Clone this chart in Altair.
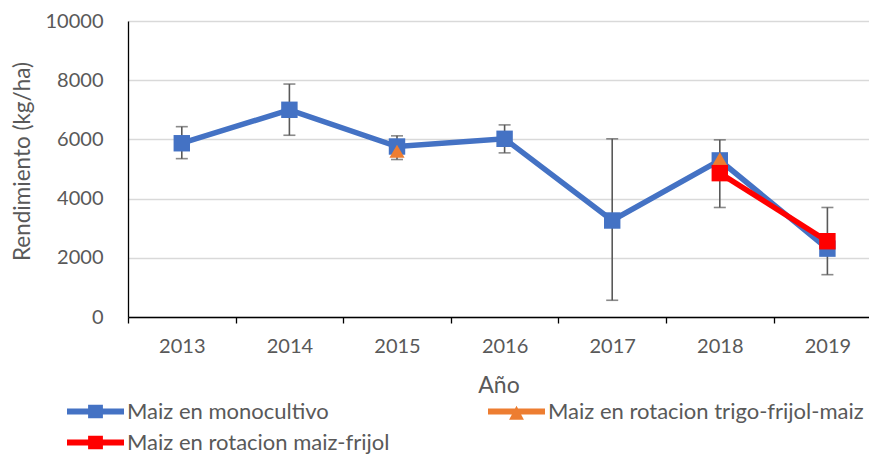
import altair as alt
import pandas as pd

years = [2013, 2014, 2015, 2016, 2017, 2018, 2019]
series_names = ["Maiz en monocultivo", "Maiz en rotacion trigo-frijol-maiz", "Maiz en rotacion maiz-frijol"]
mono = [5870, 7000, 5760, 6020, 3260, 5290, 2310]
trigo_years = [2015, 2018]
trigo = [5600, 5340]
mf_years = [2018, 2019]
maizfrijol = [4860, 2560]
err_low = [5350, 6140, 5320, 5545, 565, 3700, 1430]
err_high = [6430, 7870, 6120, 6490, 6020, 5985, 3700]
colors = ["#4472C4", "#ED7D31", "#FF0000"]
y_ticks = [0, 2000, 4000, 6000, 8000, 10000]
x_bounds = [2012.5, 2013.5, 2014.5, 2015.5, 2016.5, 2017.5, 2018.5]

FONT = "Lato"
GREY = "#595959"
W, H = 741, 296
STEP = 107.6
xmax = 2012.5 + W / STEP

df_mono = pd.DataFrame({"year": years, "value": mono, "series": series_names[0]})
df_trigo = pd.DataFrame({"year": trigo_years, "value": trigo, "series": series_names[1]})
df_mf = pd.DataFrame({"year": mf_years, "value": maizfrijol, "series": series_names[2]})
df_err = pd.DataFrame({"year": years, "lo": err_low, "hi": err_high})
df_leg = pd.DataFrame({"year": [0, 0, 0], "series": series_names})

x_enc = alt.X(
    "year:Q",
    scale=alt.Scale(domain=[2012.5, xmax], nice=False, zero=False),
    axis=alt.Axis(
        values=x_bounds,
        labelExpr="'' + (datum.value + 0.5)",
        labelOffset=STEP / 2,
        labelFlush=False,
        labelOverlap=False,
        grid=False,
        tickSize=6,
        tickColor="#000000",
        domainColor="#000000",
        domainWidth=1.3,
        tickWidth=1.3,
        labelFont=FONT,
        labelFontSize=20,
        labelColor=GREY,
        labelPadding=13,
        title="Año",
        titleFont=FONT,
        titleFontSize=23,
        titleFontWeight="normal",
        titleColor=GREY,
        titlePadding=18,
    ),
)
y_scale = alt.Scale(domain=[0, 10000], nice=False, zero=True)
y_axis = alt.Axis(
    values=y_ticks,
    format="d",
    grid=True,
    gridColor="#D9D9D9",
    gridWidth=1.3,
    ticks=False,
    domainColor="#000000",
    domainWidth=1.3,
    labelFont=FONT,
    labelFontSize=20,
    labelColor=GREY,
    labelPadding=25,
    title="Rendimiento (kg/ha)",
    titleFont=FONT,
    titleFontSize=22.5,
    titleFontWeight="normal",
    titleColor=GREY,
    titleX=-106,
    titleY=140,
    titleBaseline="middle",
)

err_rule = alt.Chart(df_err).mark_rule(color=GREY, strokeWidth=1.6).encode(
    x=x_enc, y=alt.Y("lo:Q", scale=y_scale, axis=y_axis), y2="hi:Q"
)
cap_lo = alt.Chart(df_err).mark_tick(color=GREY, size=12, thickness=1.6, orient="horizontal").encode(
    x="year:Q", y="lo:Q"
)
cap_hi = alt.Chart(df_err).mark_tick(color=GREY, size=12, thickness=1.6, orient="horizontal").encode(
    x="year:Q", y="hi:Q"
)

mono_line = alt.Chart(df_mono).mark_line(color=colors[0], strokeWidth=5.5).encode(
    x="year:Q", y="value:Q"
)
mono_pts = alt.Chart(df_mono).mark_point(color=colors[0], filled=True, opacity=1, shape="square", size=270).encode(
    x="year:Q", y="value:Q"
)
trigo_pts = alt.Chart(df_trigo).mark_point(
    color=colors[1], filled=True, opacity=1, shape="triangle-up", size=230
).encode(x="year:Q", y="value:Q")
mf_line = alt.Chart(df_mf).mark_line(color=colors[2], strokeWidth=5.5).encode(
    x="year:Q", y="value:Q"
)
mf_pts = alt.Chart(df_mf).mark_point(color=colors[2], filled=True, opacity=1, shape="square", size=270).encode(
    x="year:Q", y="value:Q"
)

line_sq = "M-1,-0.105H1V0.105H-1Z M-0.26,-0.24H0.26V0.24H-0.26Z"
line_tri = "M-1,-0.105H1V0.105H-1Z M0,-0.2L0.26,0.29H-0.26Z"
leg = alt.Legend(
    title=None,
    orient="none",
    direction="horizontal",
    legendX=-61,
    legendY=379,
    columns=2,
    columnPadding=98,
    rowPadding=8,
    clipHeight=23,
    symbolSize=3249,
    labelFont=FONT,
    labelFontSize=22,
    labelColor=GREY,
    labelOffset=3,
    labelLimit=0,
    symbolStrokeWidth=0,
)
legend_layer = alt.Chart(df_leg).transform_filter("datum.year > 1").mark_point(
    filled=True, opacity=1, size=3249
).encode(
    color=alt.Color("series:N", scale=alt.Scale(domain=series_names, range=colors), legend=leg),
    shape=alt.Shape("series:N", scale=alt.Scale(domain=series_names, range=[line_sq, line_tri, line_sq]), legend=leg),
)

chart = alt.layer(
    err_rule, cap_lo, cap_hi, mono_line, mono_pts, trigo_pts, mf_line, mf_pts, legend_layer
).properties(
    width=W,
    height=H,
    autosize=alt.AutoSizeParams(type="none"),
    padding={"left": 120, "top": 13, "right": 0, "bottom": 137},
    background="white",
).configure_view(stroke=None)

chart.save("out.html", embed_options={"renderer": "svg", "actions": False})
